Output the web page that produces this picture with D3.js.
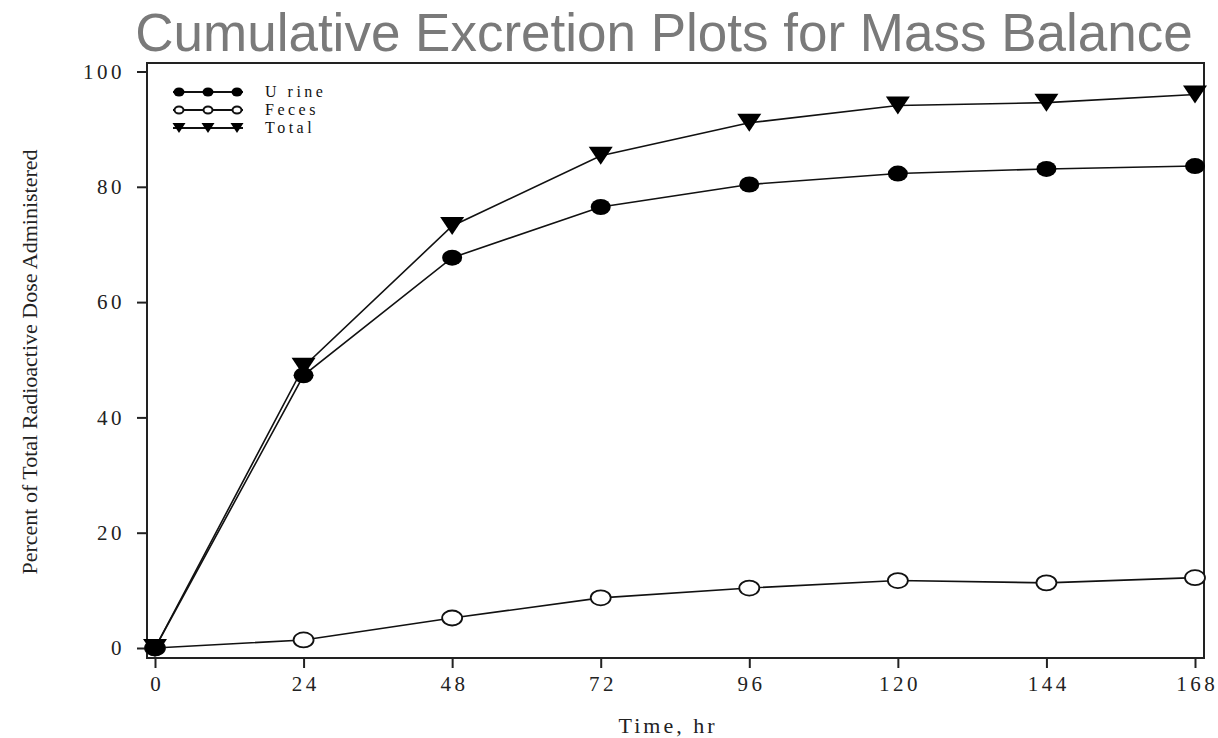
<!DOCTYPE html>
<html>
<head>
<meta charset="utf-8">
<script src="https://cdn.jsdelivr.net/npm/d3@7"></script>
<style>
  body { margin: 0; background: #fff; }
  svg text { font-family: "Liberation Serif", "DejaVu Serif", serif; }
</style>
</head>
<body>
<svg width="1218" height="738"></svg>
<script>
// data
var hours  = [0, 24, 48, 72, 96, 120, 144, 168];
var urine  = [0, 47.3, 67.7, 76.5, 80.4, 82.3, 83.1, 83.6];
var feces  = [0, 1.4, 5.2, 8.7, 10.4, 11.7, 11.3, 12.2];
var total  = [0, 48.8, 73.2, 85.4, 91.1, 94.1, 94.6, 96.0];
var xTicks = [0, 24, 48, 72, 96, 120, 144, 168];
var yTicks = [0, 20, 40, 60, 80, 100];
var seriesNames = ["Urine", "Feces", "Total"];

var svg = d3.select("svg");

var x = d3.scaleLinear().domain([0, 168]).range([155, 1195]);
var y = d3.scaleLinear().domain([0, 100]).range([648, 71.5]);

// title
svg.append("text")
  .attr("x", 664)
  .attr("y", 51)
  .attr("text-anchor", "middle")
  .style("font-family", "'Liberation Sans', Arial, sans-serif")
  .attr("font-size", "53px")
  .attr("fill", "#7a7a7a")
  .text("Cumulative Excretion Plots for Mass Balance");

// plot frame
svg.append("rect")
  .attr("x", 147).attr("y", 63)
  .attr("width", 1204 - 147).attr("height", 658 - 63)
  .attr("fill", "none")
  .attr("stroke", "#222")
  .attr("stroke-width", 2);

// x axis: major + minor ticks pointing down
var xAxis = svg.append("g").attr("transform", "translate(0,658)");
xAxis.call(d3.axisBottom(x).tickValues(d3.range(12, 168, 24)).tickSize(6).tickFormat(""));
xAxis.call(d3.axisBottom(x).tickValues(xTicks).tickSize(10).tickPadding(8).tickFormat(d3.format("d")));
xAxis.selectAll(".domain").remove();
xAxis.selectAll("line").attr("stroke", "#222").attr("stroke-width", 2);
xAxis.selectAll("text")
  .attr("font-size", "21px")
  .attr("fill", "#222")
  .style("letter-spacing", "3.5px")
  .attr("dx", "1.75px");

// y axis: major + minor ticks pointing left
var yAxis = svg.append("g").attr("transform", "translate(147,0)");
yAxis.call(d3.axisLeft(y).tickValues(d3.range(10, 100, 20)).tickSize(6).tickFormat(""));
yAxis.call(d3.axisLeft(y).tickValues(yTicks).tickSize(10).tickPadding(12).tickFormat(d3.format("d")));
yAxis.selectAll(".domain").remove();
yAxis.selectAll("line").attr("stroke", "#222").attr("stroke-width", 2);
yAxis.selectAll("text")
  .attr("font-size", "21px")
  .attr("fill", "#222")
  .style("letter-spacing", "3.5px");

// axis titles
svg.append("text")
  .attr("x", 668).attr("y", 733)
  .attr("text-anchor", "middle")
  .attr("font-size", "22px")
  .style("letter-spacing", "3px")
  .attr("fill", "#222")
  .text("Time, hr");

svg.append("text")
  .attr("transform", "translate(37,362) rotate(-90)")
  .attr("text-anchor", "middle")
  .attr("font-size", "22px")
  .attr("fill", "#222")
  .text("Percent of Total Radioactive Dose Administered");

var line = d3.line()
  .x(function (d) { return x(d[0]); })
  .y(function (d) { return y(d[1]); });

function pairs(vals) {
  return hours.map(function (h, i) { return [h, vals[i]]; });
}

var tri = function (cx, cy, w, h) {
  return "M" + (cx - w / 2) + "," + (cy - h / 2) + "L" + (cx + w / 2) + "," + (cy - h / 2) +
    "L" + cx + "," + (cy + h / 2) + "Z";
};

// lines
[total, urine, feces].forEach(function (vals) {
  svg.append("path")
    .datum(pairs(vals))
    .attr("fill", "none")
    .attr("stroke", "#111")
    .attr("stroke-width", 1.6)
    .attr("d", line);
});

// feces markers (open)
svg.append("g").selectAll("ellipse")
  .data(pairs(feces))
  .enter().append("ellipse")
  .attr("cx", function (d) { return x(d[0]); })
  .attr("cy", function (d) { return y(d[1]); })
  .attr("rx", 10).attr("ry", 7.5)
  .attr("fill", "#fff")
  .attr("stroke", "#111")
  .attr("stroke-width", 1.8);

// total markers (triangles)
svg.append("g").selectAll("path")
  .data(pairs(total))
  .enter().append("path")
  .attr("d", function (d) { return tri(x(d[0]), y(d[1]), 24, 18); })
  .attr("fill", "#000");

// urine markers (filled)
svg.append("g").selectAll("ellipse")
  .data(pairs(urine))
  .enter().append("ellipse")
  .attr("cx", function (d) { return x(d[0]); })
  .attr("cy", function (d) { return y(d[1]); })
  .attr("rx", 10).attr("ry", 8)
  .attr("fill", "#000");

// legend
var leg = svg.append("g");
var legY = [92, 110, 128];
seriesNames.forEach(function (name, i) {
  var g = leg.append("g");
  g.append("line")
    .attr("x1", 173).attr("x2", 243)
    .attr("y1", legY[i]).attr("y2", legY[i])
    .attr("stroke", "#111").attr("stroke-width", 2);
  [179, 208, 237].forEach(function (mx) {
    if (i === 0) {
      g.append("ellipse").attr("cx", mx).attr("cy", legY[i]).attr("rx", 5.5).attr("ry", 4.5).attr("fill", "#000");
    } else if (i === 1) {
      g.append("ellipse").attr("cx", mx).attr("cy", legY[i]).attr("rx", 4.5).attr("ry", 3.5)
        .attr("fill", "#fff").attr("stroke", "#111").attr("stroke-width", 2);
    } else {
      g.append("path").attr("d", tri(mx, legY[i], 13, 10)).attr("fill", "#000");
    }
  });
  g.append("text")
    .attr("x", 265).attr("y", legY[i] + 5)
    .attr("font-size", "16px")
    .style("letter-spacing", "3.5px")
    .attr("fill", "#111")
    .text(name === "Urine" ? "U rine" : name);
});
</script>
</body>
</html>
